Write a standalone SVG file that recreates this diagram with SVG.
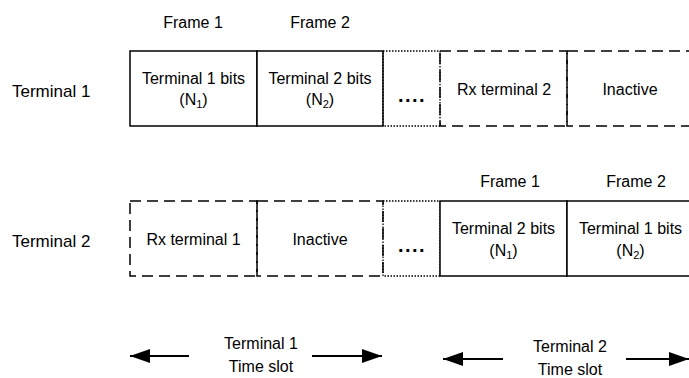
<svg xmlns="http://www.w3.org/2000/svg" width="689" height="378" viewBox="0 0 689 378">
<style>
text{font-family:"Liberation Sans",Arial,sans-serif;fill:#000;text-anchor:middle}
.lab{font-size:17px;text-anchor:start}
.t{font-size:16px}
.sub{font-size:11px}
.solid{fill:#fff;stroke:#000;stroke-width:1.5}
.dash{fill:none;stroke:#000;stroke-width:1.5;stroke-dasharray:11 6}
.dot{fill:none;stroke:#000;stroke-width:1.3;stroke-dasharray:1.5 1.5}
.dots{font-size:20px;font-weight:bold;letter-spacing:1.5px}
.arr{stroke:#000;stroke-width:2;fill:none;marker-end:url(#ah)}
</style>
<defs>
<marker id="ah" markerUnits="userSpaceOnUse" markerWidth="20" markerHeight="14" refX="20" refY="7" orient="auto">
<path d="M0,0 L20,7 L0,14 z" fill="#000"/>
</marker>
</defs>

<g id="row1-label"><text class="lab" x="12" y="97">Terminal 1</text></g>
<g id="row1-frame-labels">
<text class="t" x="193" y="28">Frame 1</text>
<text class="t" x="320" y="28">Frame 2</text>
</g>
<g id="r1-t1bits">
<rect class="solid" x="130" y="51" width="127" height="75"/>
<text class="t" x="193.5" y="84">Terminal 1 bits</text>
<text class="t" x="193.5" y="105">(N<tspan class="sub" dy="3">1</tspan><tspan dy="-3">)</tspan></text>
</g>
<g id="r1-t2bits">
<rect class="solid" x="257" y="51" width="126" height="75"/>
<text class="t" x="320" y="84">Terminal 2 bits</text>
<text class="t" x="320" y="105">(N<tspan class="sub" dy="3">2</tspan><tspan dy="-3">)</tspan></text>
</g>
<g id="r1-gap">
<rect class="dot" x="383" y="51" width="57" height="75"/>
<text class="dots" x="412" y="102">....</text>
</g>
<g id="r1-rx">
<rect class="dash" x="440" y="51" width="127" height="75"/>
<text class="t" x="504" y="95">Rx terminal 2</text>
</g>
<g id="r1-inactive">
<rect class="dash" x="567" y="51" width="127" height="75"/>
<text class="t" x="630" y="95">Inactive</text>
</g>

<g id="row2-label"><text class="lab" x="12" y="247">Terminal 2</text></g>
<g id="row2-frame-labels">
<text class="t" x="510" y="187">Frame 1</text>
<text class="t" x="636" y="187">Frame 2</text>
</g>
<g id="r2-rx">
<rect class="dash" x="130" y="201" width="127" height="75"/>
<text class="t" x="193.5" y="245">Rx terminal 1</text>
</g>
<g id="r2-inactive">
<rect class="dash" x="257" y="201" width="126" height="75"/>
<text class="t" x="320" y="245">Inactive</text>
</g>
<g id="r2-gap">
<rect class="dot" x="383" y="201" width="57" height="75"/>
<text class="dots" x="412" y="252">....</text>
</g>
<g id="r2-t2bits">
<rect class="solid" x="440" y="201" width="127" height="75"/>
<text class="t" x="503.5" y="234">Terminal 2 bits</text>
<text class="t" x="503.5" y="256">(N<tspan class="sub" dy="3">1</tspan><tspan dy="-3">)</tspan></text>
</g>
<g id="r2-t1bits">
<rect class="solid" x="567" y="201" width="127" height="75"/>
<text class="t" x="630.5" y="234">Terminal 1 bits</text>
<text class="t" x="630.5" y="256">(N<tspan class="sub" dy="3">2</tspan><tspan dy="-3">)</tspan></text>
</g>

<g id="slot1-label">
<text class="t" x="261" y="349">Terminal 1</text>
<text class="t" x="261" y="372">Time slot</text>
</g>
<g id="slot2-label">
<text class="t" x="570" y="352">Terminal 2</text>
<text class="t" x="570" y="375">Time slot</text>
</g>

<g id="connectors">
<line class="arr" x1="189" y1="356" x2="130" y2="356"/>
<line class="arr" x1="312" y1="356" x2="382" y2="356"/>
<line class="arr" x1="503" y1="359" x2="443" y2="359"/>
<line class="arr" x1="626" y1="359" x2="689" y2="359"/>
</g>
</svg>
